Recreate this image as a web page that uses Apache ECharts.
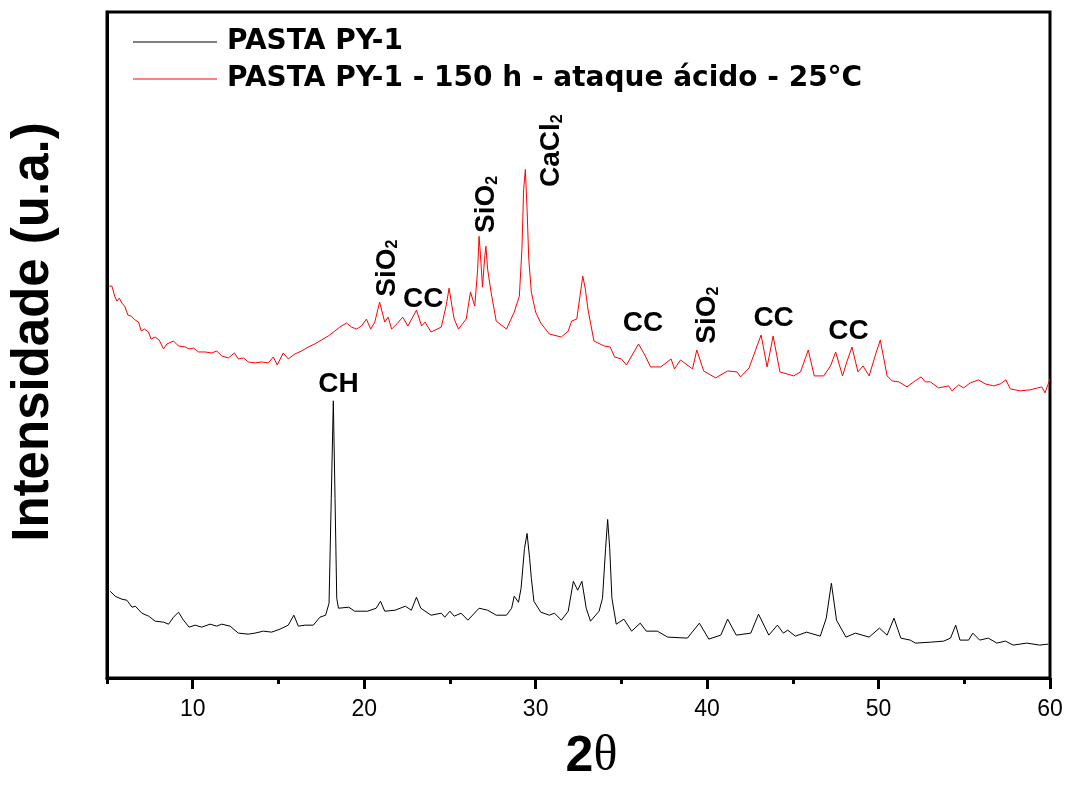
<!DOCTYPE html>
<html>
<head>
<meta charset="utf-8">
<script src="https://cdn.jsdelivr.net/npm/echarts@6/dist/echarts.min.js"></script>
<style>html,body{margin:0;padding:0;background:#fff}#c{width:1074px;height:787px}</style>
</head>
<body>
<div id="c"></div>
<script>
// ---- data (2θ in degrees, intensity in arbitrary units) ----
const blackX = [5.19,5.48,5.87,6.16,6.46,6.65,7.04,7.43,7.81,8.3,8.59,8.88,9.17,9.46,9.79,10.14,10.53,11.01,11.4,11.69,12.18,12.66,13.25,13.63,14.12,14.6,15.09,15.57,15.9,16.16,16.54,17.03,17.42,17.75,17.95,18.08,18.2,18.3,18.4,18.5,19.1,19.45,20.2,20.7,20.95,21.2,21.8,22.4,22.75,23.05,23.3,23.9,24.5,24.7,25.0,25.25,25.65,26.05,26.7,27.2,27.7,28.3,28.6,28.75,29.0,29.15,29.35,29.5,29.65,29.75,29.9,30.3,30.8,31.1,31.5,31.9,32.2,32.45,32.7,32.95,33.2,33.7,33.9,34.08,34.2,34.32,34.45,34.7,35.15,35.6,36.1,36.45,37.1,37.7,38.85,39.55,40.1,40.8,41.2,41.7,42.55,43.0,43.6,44.1,44.45,44.7,45.15,45.8,46.6,46.95,47.25,47.55,48.1,48.65,49.45,50.05,50.5,50.9,51.3,51.85,52.15,53.1,53.8,54.2,54.5,54.75,55.25,55.5,55.9,56.4,56.9,57.4,57.85,58.65,59.4,59.9];
const blackY = [87,82,79,78,71,72,65,62,57,56,54,61,66,58,51,53,51,54,52,54,52,45,44,45,47,46,49,53,63,52,53,53,61,63,75,180,278,180,80,70,71,67,67,70,77,67,68,72,68,81,70,63,65,61,67,62,65,58,70,68,63,63,70,82,76,90,130,145,120,100,77,66,63,65,58,67,97,88,97,70,57,67,80,130,159,130,80,54,59,47,55,47,47,41,40,55,39,43,59,43,45,64,43,53,45,48,42,46,42,60,95,58,41,45,41,50,43,60,40,38,35,36,37,40,53,38,38,45,38,40,35,37,33,35,33,34];

const redX = [5.13,5.29,5.45,5.58,5.72,5.87,6.03,6.22,6.41,6.65,6.84,7.0,7.19,7.42,7.57,7.81,8.04,8.3,8.49,8.88,9.17,9.56,9.79,10.04,10.34,10.72,11.11,11.4,11.69,12.08,12.43,12.66,12.96,13.25,13.63,14.02,14.41,14.7,14.93,15.28,15.57,15.96,16.35,16.74,17.12,17.51,17.9,18.29,18.58,18.97,19.26,19.55,19.84,20.13,20.38,20.62,20.9,21.2,21.4,21.6,21.95,22.25,22.55,23.05,23.35,23.55,23.9,24.5,24.8,24.95,25.1,25.25,25.5,25.95,26.2,26.45,26.62,26.7,26.78,26.9,27.02,27.1,27.2,27.4,27.7,28.3,28.75,29.05,29.2,29.3,29.4,29.5,29.6,29.75,30.0,30.3,30.8,31.5,31.9,32.1,32.4,32.6,32.75,32.9,33.05,33.4,34.0,34.35,34.6,35.0,35.3,36.0,36.4,36.7,37.3,37.9,38.1,38.45,39.15,39.4,39.8,40.5,41.2,41.75,41.95,42.45,42.85,43.15,43.5,43.85,44.25,45.05,45.45,45.9,46.25,46.8,47.2,47.5,47.9,48.15,48.45,48.8,49.1,49.45,49.8,50.1,50.5,50.79,51.18,51.66,52.05,52.48,52.73,53.02,53.5,54.09,54.28,54.67,54.96,55.35,55.83,56.22,56.71,57.1,57.43,57.68,58.26,58.84,59.52,59.71,60.0];
const redY = [393,393,383,378,381,376,373,364,363,359,357,348,350,347,340,342,339,330,335,338,333,332,330,331,327,327,326,328,323,321,326,320,321,317,316,317,316,322,314,326,320,325,328,332,335,339,343,348,352,356,352,350,353,360,350,357,377,357,362,350,356,362,353,369,353,357,347,352,375,391,375,360,350,360,387,373,410,443,425,392,420,433,410,387,358,350,367,383,430,490,510,470,420,387,367,356,345,342,348,358,360,385,403,390,370,338,333,332,322,320,314,335,323,312,312,320,310,319,310,329,308,301,308,307,302,311,330,344,312,343,307,303,307,329,303,303,313,327,303,317,332,307,313,303,323,339,303,298,297,292,297,302,297,297,291,293,288,294,291,296,299,295,293,295,299,290,288,289,292,286,300];

const seriesNames = ['PASTA PY-1', 'PASTA PY-1 - 150 h - ataque ácido - 25°C'];
const seriesColors = ['#000000', '#ff0000'];

const majorTicks = [10,20,30,40,50,60];
const minorTicks = [5,15,25,35,45,55];

// peak annotations: text, 2θ position, intensity position, rotation
const annText = ['CH', '{m|SiO}{s|2}', 'CC', '{m|SiO}{s|2}', '{m|CaCl}{s|2}', 'CC', '{m|SiO}{s|2}', 'CC', 'CC'];
const annX    = [18.5, 21.33, 23.45, 27.15, 30.93, 36.26, 40.01, 43.88, 48.25];
const annY    = [295, 411, 380, 475, 529, 356, 364, 361, 348];
const annRot  = [0, 90, 0, 90, 90, 0, 90, 0, 0];

// ---- build ----
const toPairs = (xs, ys) => xs.map((x, i) => [x, ys[i]]);
const lineSeries = [toPairs(blackX, blackY), toPairs(redX, redY)].map((d, i) => ({
  name: seriesNames[i], type: 'line', data: d, symbol: 'none', smooth: false,
  lineStyle: { color: seriesColors[i], width: 1 }, itemStyle: { color: seriesColors[i] },
  silent: true, animation: false, z: 3
}));

const FONT = 'Liberation Sans, Arial, sans-serif';
const annSeries = annText.map((t, i) => ({
  type: 'scatter', data: [[annX[i], annY[i]]], symbolSize: 0, silent: true, animation: false, z: 5,
  itemStyle: { opacity: 1, color: '#000' },
  label: {
    show: true, position: 'inside', rotate: annRot[i], formatter: t, opacity: 1,
    color: '#000', fontFamily: FONT, fontWeight: 'bold', fontSize: 28,
    rich: {
      m: { color: '#000', fontFamily: FONT, fontWeight: 'bold', fontSize: 28, lineHeight: 28, verticalAlign: 'top' },
      s: { color: '#000', fontFamily: FONT, fontWeight: 'bold', fontSize: 16, lineHeight: 16, padding: [21, 0, 0, 0], verticalAlign: 'bottom' }
    }
  }
}));

const chart = echarts.init(document.getElementById('c'), null, { renderer: 'canvas' });
chart.setOption({
  backgroundColor: '#fff',
  animation: false,
  grid: { left: 105, right: 24, top: 12, bottom: 107, show: true, borderColor: '#000', borderWidth: 3, containLabel: false },
  legend: {
    orient: 'vertical', left: 128, top: 22, itemWidth: 84, itemHeight: 1, itemGap: 7,
    data: seriesNames.map(n => ({ name: n, icon: 'rect' })),
    textStyle: { fontFamily: 'DejaVu Sans, sans-serif', fontWeight: 'bold', fontSize: 28, color: '#000', lineHeight: 30, padding: [0, 0, 0, 5] }
  },
  xAxis: [{
    type: 'value', min: 5, max: 60, position: 'bottom',
    name: '{a|2}{b|θ}', nameLocation: 'middle', nameGap: 54,
    nameTextStyle: { padding: [0, 0, 0, 26], rich: {
      a: { fontFamily: FONT, fontWeight: 'bold', fontSize: 50, color: '#000' },
      b: { fontFamily: 'Liberation Serif, Times New Roman, serif', fontWeight: 'normal', fontSize: 50, color: '#000' }
    } },
    axisLine: { show: true, lineStyle: { color: '#000', width: 3 } },
    axisTick: { show: true, inside: false, length: 11, customValues: majorTicks, lineStyle: { color: '#000', width: 3 } },
    axisLabel: { show: true, customValues: majorTicks, margin: 20, color: '#000', fontFamily: FONT, fontSize: 23 },
    splitLine: { show: false }
  }, {
    type: 'value', min: 5, max: 60, position: 'bottom',
    axisLine: { show: false },
    axisTick: { show: true, inside: false, length: 6, customValues: minorTicks, lineStyle: { color: '#000', width: 3 } },
    axisLabel: { show: false },
    splitLine: { show: false }
  }],
  yAxis: {
    type: 'value', min: 0, max: 668,
    name: 'Intensidade (u.a.)', nameLocation: 'middle', nameGap: 48,
    nameTextStyle: { fontFamily: FONT, fontWeight: 'bold', fontSize: 51, color: '#000', padding: [0, 0, 0, 26] },
    axisLine: { show: true, lineStyle: { color: '#000', width: 3 } },
    axisTick: { show: false }, axisLabel: { show: false }, splitLine: { show: false }
  },
  series: lineSeries.concat(annSeries)
});
</script>
</body>
</html>
